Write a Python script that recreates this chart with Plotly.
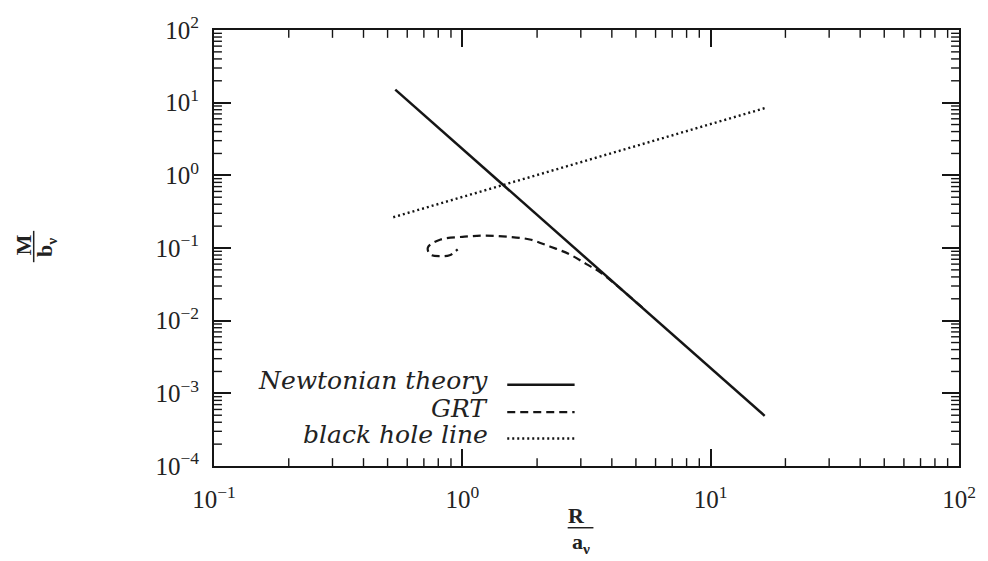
import plotly.graph_objects as go

# Mass-radius relations (R in units of a_nu, M in units of b_nu)
newton_R = [0.537, 16.5]
newton_M = [15.1, 4.9e-4]

grt_R = [5.3, 4.16, 3.57, 3.16, 2.70, 2.25, 1.87, 1.52, 1.23, 1.02, 0.818, 0.727,
         0.741, 0.812, 0.889, 0.930, 0.958]
grt_M = [0.0152, 0.031, 0.0469, 0.060, 0.082, 0.105, 0.131, 0.143, 0.148, 0.143,
         0.131, 0.102, 0.082, 0.077, 0.0795, 0.088, 0.0958]

bh_R = [0.527, 16.7]
bh_M = [0.265, 8.5]

x_tickvals = [0.1, 1, 10, 100]
x_ticktext = ["10<sup>−1</sup>", "10<sup>0</sup>", "10<sup>1</sup>", "10<sup>2</sup>"]
y_tickvals = [1e-4, 1e-3, 1e-2, 1e-1, 1, 10, 100]
y_ticktext = ["10<sup>−4</sup>", "10<sup>−3</sup>", "10<sup>−2</sup>", "10<sup>−1</sup>",
              "10<sup>0</sup>", "10<sup>1</sup>", "10<sup>2</sup>"]

legend_labels = ["Newtonian theory", "GRT", "black hole line"]
legend_dashes = ["solid", "8px,5px", "2px,3px"]

W, H = 988, 561
ML, MR, MT, MB = 214, 22, 21, 95
PW, PH = W - ML - MR, H - MT - MB
INK = "#151515"
X_DEC, Y_DEC = (-1, 2), (-4, 2)          # axis ranges in decades


def px(xp):
    return (xp - ML) / PW


def py(yp):
    return (H - MB - yp) / PH


fig = go.Figure()
fig.add_trace(go.Scatter(x=newton_R, y=newton_M, mode="lines",
                         line=dict(color=INK, width=2.5), showlegend=False))
fig.add_trace(go.Scatter(x=grt_R, y=grt_M, mode="lines", line_shape="spline",
                         line=dict(color=INK, width=2.2, dash="8px,5px"), showlegend=False))
fig.add_trace(go.Scatter(x=bh_R, y=bh_M, mode="lines",
                         line=dict(color=INK, width=2.4, dash="2px,3px"), showlegend=False))

# Minor ticks (2..9 in each decade) on all four frame sides, 8 px long, pointing inward
x_minor = [m * 10.0 ** e for e in range(X_DEC[0], X_DEC[1]) for m in range(2, 10)]
y_minor = [m * 10.0 ** e for e in range(Y_DEC[0], Y_DEC[1]) for m in range(2, 10)]
xmin, xmax = 10.0 ** X_DEC[0], 10.0 ** X_DEC[1]
ymin, ymax = 10.0 ** Y_DEC[0], 10.0 ** Y_DEC[1]
kx = 10 ** (8 / (PW / (X_DEC[1] - X_DEC[0])))   # 8 px expressed as a factor along x
ky = 10 ** (8 / (PH / (Y_DEC[1] - Y_DEC[0])))   # 8 px expressed as a factor along y
tx, ty = [], []
for v in x_minor:
    tx += [v, v, None, v, v, None]
    ty += [ymin, ymin * ky, None, ymax, ymax / ky, None]
for v in y_minor:
    tx += [xmin, xmin * kx, None, xmax, xmax / kx, None]
    ty += [v, v, None, v, v, None]
fig.add_trace(go.Scatter(x=tx, y=ty, mode="lines", line=dict(color=INK, width=1.4),
                         showlegend=False, hoverinfo="skip", connectgaps=False))

axis_common = dict(
    type="log", showgrid=False, zeroline=False,
    showline=True, linecolor=INK, linewidth=2, mirror="ticks",
    ticks="inside", ticklen=17, tickwidth=1.6, tickcolor=INK,
    tickmode="array",
    tickfont=dict(family="Liberation Serif", size=25, color="#222"),
)
fig.update_xaxes(range=list(X_DEC), tickvals=x_tickvals, ticktext=x_ticktext,
                 ticklabelstandoff=10, **axis_common)
fig.update_yaxes(range=list(Y_DEC), tickvals=y_tickvals, ticktext=y_ticktext,
                 ticklabelstandoff=8, **axis_common)

annotations = []
shapes = []

# Legend: label on the left, line sample on the right
rows_y = [381, 409, 436]
for label, dash, ry in zip(legend_labels, legend_dashes, rows_y):
    annotations.append(dict(
        text=label, xref="paper", yref="paper", x=px(493), y=py(ry - 2),
        xanchor="right", yanchor="middle", showarrow=False,
        font=dict(family="DejaVu Serif", size=25, style="italic", color="#222")))
    shapes.append(dict(
        type="line", xref="paper", yref="paper",
        x0=px(510), x1=px(578), y0=py(ry + 2), y1=py(ry + 2),
        line=dict(color=INK, width=2.4 if dash != "solid" else 2.5, dash=dash)))

title_font = dict(family="Liberation Serif", size=22, color="#222", weight="bold")

# x-axis title as a fraction R / a_nu
annotations.append(dict(text="R", xref="paper", yref="paper", x=px(580), y=py(517),
                        xanchor="center", yanchor="middle", showarrow=False, font=title_font))
annotations.append(dict(text="a<sub>ν</sub>", xref="paper", yref="paper", x=px(584), y=py(545),
                        xanchor="center", yanchor="middle", showarrow=False, font=title_font))
shapes.append(dict(type="line", xref="paper", yref="paper",
                   x0=px(571), x1=px(597), y0=py(529), y1=py(529),
                   line=dict(color="#222", width=1.5)))

# y-axis title as a rotated fraction M / b_nu
annotations.append(dict(text="M", xref="paper", yref="paper", x=px(22), y=py(240),
                        xanchor="center", yanchor="middle", showarrow=False,
                        textangle=-90, font=title_font))
annotations.append(dict(text="b<sub>ν</sub>", xref="paper", yref="paper", x=px(44), y=py(243),
                        xanchor="center", yanchor="middle", showarrow=False,
                        textangle=-90, font=title_font))
shapes.append(dict(type="line", xref="paper", yref="paper",
                   x0=px(32), x1=px(32), y0=py(226), y1=py(258),
                   line=dict(color="#222", width=1.5)))

fig.update_layout(
    width=W, height=H,
    margin=dict(l=ML, r=MR, t=MT, b=MB),
    paper_bgcolor="white", plot_bgcolor="white",
    annotations=annotations, shapes=shapes,
    showlegend=False,
)

fig.write_html("out.html")
